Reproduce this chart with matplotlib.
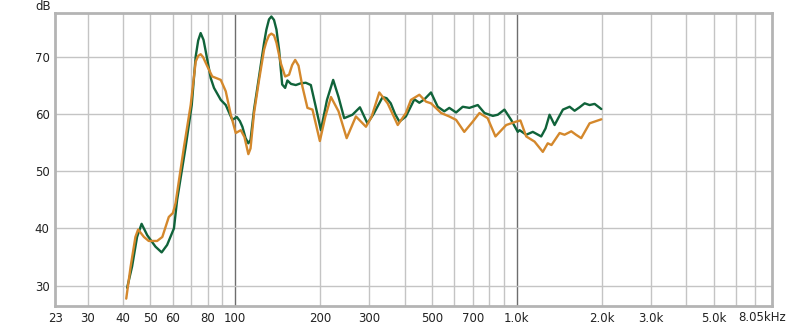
import matplotlib
matplotlib.use("Agg")
import matplotlib.pyplot as plt
import numpy as np

# luettu kuvasta: taajuus (Hz), taso (dB)
vihrea_f = [41.4, 43.1, 44.9, 46.6, 48.8, 52.2, 54.9, 57.4, 60.7, 62.3, 66.8, 70.2,
            72.5, 74.0, 75.5, 77.3, 78.7, 82.0, 84.2, 89.0, 92.7, 97.8, 101.5, 104.0,
            106.2, 109.0, 111.5, 113.5, 116.8, 121.7, 126.8, 129.2, 132.0, 134.6,
            137.5, 140.3, 143.3, 147.0, 150.6, 153.4, 158.0,
            164.3, 171.0, 178.3, 185.8, 193.0, 201.7, 212.0, 223.0, 233.0, 244.0,
            261.0, 277.5, 295.0, 310.0, 334.0, 345.0, 357.0, 370.0, 383.0, 404.0,
            433.0, 451.0, 470.0, 496.0, 524.0, 553.0, 576.0, 609.0, 643.0, 679.0,
            727.0, 768.0, 822.0, 856.0, 904.0, 955.0, 1008.0, 1023.0, 1080.0, 1140.0,
            1221.0, 1265.0, 1307.0, 1362.0, 1410.0, 1458.0, 1540.0, 1604.0, 1670.0,
            1741.0, 1813.0, 1889.0, 1995.0]
vihrea_db = [29.6, 33.3, 38.5, 40.8, 38.8, 36.8, 35.8, 37.1, 40.0, 45.0, 54.3, 61.6,
             70.1, 72.9, 74.2, 73.0, 71.0, 66.3, 64.6, 62.5, 61.6, 59.0, 59.5, 58.8,
             57.8, 55.8, 54.9, 55.5, 60.8, 66.6, 72.5, 74.8, 76.6, 77.1,
             76.5, 74.8, 71.3, 65.2, 64.6, 65.9, 65.3,
             65.1, 65.4, 65.5, 65.1, 61.5, 57.2, 62.5, 66.0, 63.0, 59.3,
             59.9, 61.2, 58.4, 60.0, 63.0, 62.8, 61.9, 60.0, 58.7, 59.6,
             62.6, 62.0, 62.6, 63.8, 61.3, 60.5, 61.1, 60.3, 61.3, 61.1,
             61.6, 60.2, 59.7, 59.9, 60.8, 59.0, 56.9, 57.2, 56.4, 56.9,
             56.1, 57.5, 59.9, 58.1, 59.5, 60.8, 61.3, 60.6, 61.2,
             61.9, 61.6, 61.8, 60.9]

oranssi_f = [41.1, 42.6, 44.3, 45.3, 47.5, 49.4, 52.9, 55.2, 58.2, 60.2, 61.5, 65.9,
             69.6, 72.5, 74.0, 75.5, 77.0, 79.7, 83.0, 86.0, 89.0, 92.7, 96.5, 100.6,
             104.8, 108.0, 111.5, 113.5, 116.8, 121.7, 126.8, 129.2, 132.0, 134.6,
             137.5, 140.3, 145.4, 150.6, 155.5, 159.5,
             163.5, 168.0, 173.5, 180.7, 188.3, 200.0, 209.0, 219.0, 233.0, 249.0, 268.5,
             291.5, 305.0, 325.0, 348.0, 378.0, 404.0, 421.0, 451.0, 476.0, 496.0,
             539.0, 576.0, 609.0, 651.0, 698.0, 737.0, 788.0, 840.0, 917.0, 995.0,
             1030.0, 1080.0, 1156.0, 1237.0, 1288.0, 1328.0, 1419.0, 1477.0, 1561.0,
             1622.0, 1693.0, 1813.0, 1889.0, 1995.0]
oranssi_db = [27.7, 33.3, 38.5, 39.8, 38.5, 37.8, 37.8, 38.5, 42.0, 42.7, 44.4, 54.3,
              61.6, 69.2, 70.2, 70.5, 70.0, 68.4, 66.6, 66.3, 66.0, 64.0, 60.0, 56.7,
              57.2, 56.0, 53.0, 54.0, 60.2, 66.0, 71.3, 72.7, 73.8, 74.1,
              73.8, 72.5, 68.9, 66.6, 66.9, 68.6,
              69.5, 68.5, 64.8, 61.1, 60.8, 55.3, 59.5, 63.0, 60.5, 55.8, 59.6,
              57.8, 59.5, 63.8, 61.9, 58.1, 60.2, 62.5, 63.4, 62.2, 61.9,
              60.2, 59.6, 59.0, 56.9, 58.7, 60.2, 59.3, 56.1, 58.1, 58.7,
              58.9, 56.1, 55.2, 53.4, 54.9, 54.6, 56.7, 56.4, 57.0,
              56.4, 55.8, 58.4, 58.7, 59.1]

xtikit = [23, 30, 40, 50, 60, 80, 100, 200, 300, 500, 700, 1000, 2000, 3000, 5000]
xnimet = ["23", "30", "40", "50", "60", "80", "100", "200", "300", "500", "700",
          "1.0k", "2.0k", "3.0k", "5.0k"]
ytikit = [30, 40, 50, 60, 70]
ohuet = [30, 40, 50, 60, 70, 80, 90, 200, 300, 400, 500, 600, 700, 800, 900,
         2000, 3000, 4000, 5000, 6000, 7000]

fig = plt.figure(figsize=(8, 3.27), dpi=100)
ax = fig.add_axes([0.069, 0.064, 0.896, 0.896])
ax.set_xscale("log")
ax.set_xlim(23, 8050)
ax.set_ylim(26.4, 77.7)

for f in ohuet:
    ax.axvline(f, color="#c4c4c4", lw=1, zorder=1)
for f in [100, 1000]:
    ax.axvline(f, color="#6e6e6e", lw=1, zorder=1)
for y in ytikit:
    ax.axhline(y, color="#c4c4c4", lw=1, zorder=1)

ax.plot(vihrea_f, vihrea_db, color="#10633a", lw=1.7, solid_joinstyle="round",
        solid_capstyle="round", zorder=3)
ax.plot(oranssi_f, oranssi_db, color="#d4882c", lw=1.7, solid_joinstyle="round",
        solid_capstyle="round", zorder=4)

ax.xaxis.set_minor_locator(matplotlib.ticker.NullLocator())
ax.set_xticks(xtikit)
ax.set_xticklabels(xnimet)
ax.set_yticks(ytikit)
ax.tick_params(length=0, labelsize=8.5, labelcolor="#222222", pad=4)
ax.annotate("8.05kHz", xy=(8050, 26.4), xytext=(-7, -8.5), textcoords="offset points",
            ha="center", va="center", fontsize=8.5, color="#222222", annotation_clip=False)
fig.text(0.054, 0.999, "dB", ha="center", va="top", fontsize=8.5, color="#222222")

for s in ax.spines.values():
    s.set_color("#b4b4b4")
    s.set_linewidth(2)

plt.savefig("out.png", dpi=100)
